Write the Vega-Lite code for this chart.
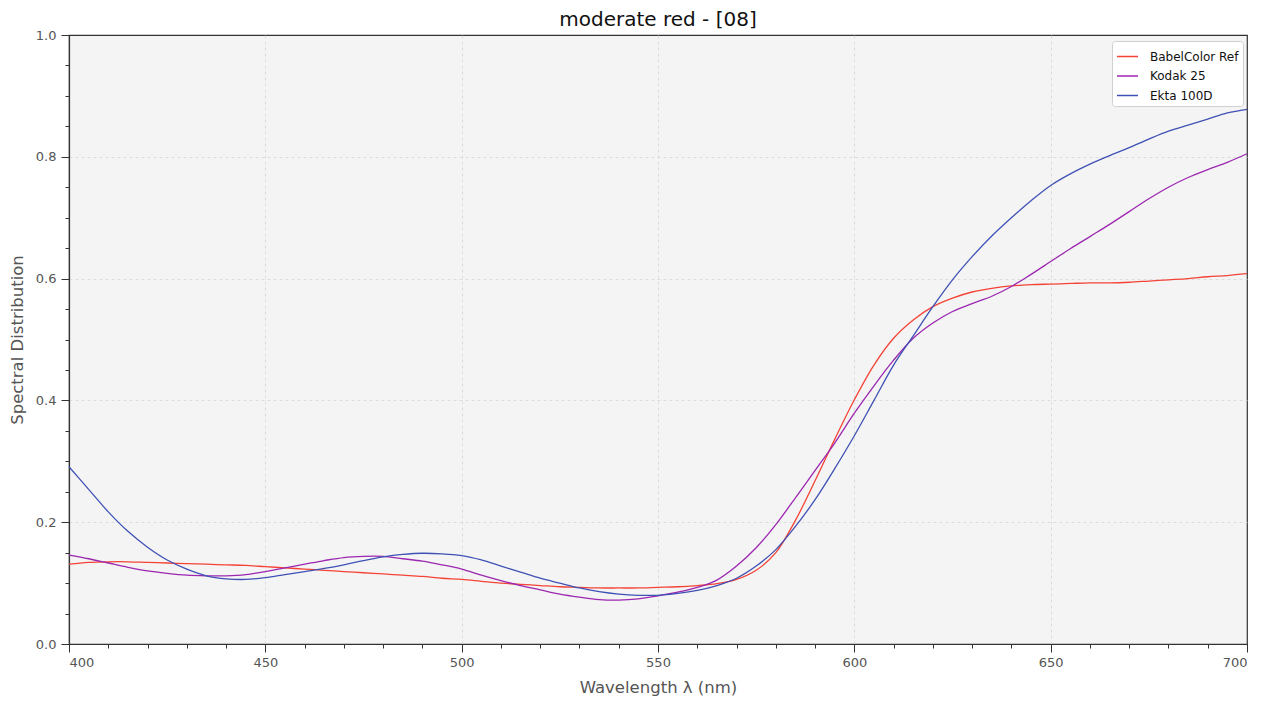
{
  "$schema": "https://vega.github.io/schema/vega-lite/v6.json",
  "width": 1178,
  "height": 609,
  "autosize": {"type": "none"},
  "padding": {"left": 69, "top": 35, "right": 22, "bottom": 65},
  "background": "#ffffff",
  "title": {"text": "moderate red - [08]", "fontSize": 20, "fontWeight": "normal", "color": "#111111", "font": "DejaVu Sans", "offset": 7, "dy": 8, "anchor": "middle"},
  "data": {"values": [
    {"w":400,"s":"BabelColor Ref","v":0.131},{"w":405,"s":"BabelColor Ref","v":0.134},{"w":410,"s":"BabelColor Ref","v":0.135},{"w":415,"s":"BabelColor Ref","v":0.135},{"w":420,"s":"BabelColor Ref","v":0.134},{"w":425,"s":"BabelColor Ref","v":0.133},{"w":430,"s":"BabelColor Ref","v":0.132},{"w":435,"s":"BabelColor Ref","v":0.131},{"w":440,"s":"BabelColor Ref","v":0.130},{"w":445,"s":"BabelColor Ref","v":0.129},{"w":450,"s":"BabelColor Ref","v":0.127},{"w":455,"s":"BabelColor Ref","v":0.125},{"w":460,"s":"BabelColor Ref","v":0.123},{"w":465,"s":"BabelColor Ref","v":0.121},{"w":470,"s":"BabelColor Ref","v":0.119},{"w":475,"s":"BabelColor Ref","v":0.117},{"w":480,"s":"BabelColor Ref","v":0.115},{"w":485,"s":"BabelColor Ref","v":0.113},{"w":490,"s":"BabelColor Ref","v":0.111},{"w":495,"s":"BabelColor Ref","v":0.108},{"w":500,"s":"BabelColor Ref","v":0.106},{"w":505,"s":"BabelColor Ref","v":0.103},{"w":510,"s":"BabelColor Ref","v":0.100},{"w":515,"s":"BabelColor Ref","v":0.098},{"w":520,"s":"BabelColor Ref","v":0.096},{"w":525,"s":"BabelColor Ref","v":0.094},{"w":530,"s":"BabelColor Ref","v":0.093},{"w":535,"s":"BabelColor Ref","v":0.092},{"w":540,"s":"BabelColor Ref","v":0.092},{"w":545,"s":"BabelColor Ref","v":0.092},{"w":550,"s":"BabelColor Ref","v":0.093},{"w":555,"s":"BabelColor Ref","v":0.094},{"w":560,"s":"BabelColor Ref","v":0.096},{"w":565,"s":"BabelColor Ref","v":0.099},{"w":570,"s":"BabelColor Ref","v":0.106},{"w":575,"s":"BabelColor Ref","v":0.121},{"w":580,"s":"BabelColor Ref","v":0.150},{"w":585,"s":"BabelColor Ref","v":0.203},{"w":590,"s":"BabelColor Ref","v":0.268},{"w":595,"s":"BabelColor Ref","v":0.336},{"w":600,"s":"BabelColor Ref","v":0.401},{"w":605,"s":"BabelColor Ref","v":0.458},{"w":610,"s":"BabelColor Ref","v":0.502},{"w":615,"s":"BabelColor Ref","v":0.532},{"w":620,"s":"BabelColor Ref","v":0.554},{"w":625,"s":"BabelColor Ref","v":0.568},{"w":630,"s":"BabelColor Ref","v":0.578},{"w":635,"s":"BabelColor Ref","v":0.584},{"w":640,"s":"BabelColor Ref","v":0.588},{"w":645,"s":"BabelColor Ref","v":0.590},{"w":650,"s":"BabelColor Ref","v":0.591},{"w":655,"s":"BabelColor Ref","v":0.592},{"w":660,"s":"BabelColor Ref","v":0.593},{"w":665,"s":"BabelColor Ref","v":0.593},{"w":670,"s":"BabelColor Ref","v":0.594},{"w":675,"s":"BabelColor Ref","v":0.596},{"w":680,"s":"BabelColor Ref","v":0.598},{"w":685,"s":"BabelColor Ref","v":0.600},{"w":690,"s":"BabelColor Ref","v":0.603},{"w":695,"s":"BabelColor Ref","v":0.605},{"w":700,"s":"BabelColor Ref","v":0.608},
    {"w":400,"s":"Kodak 25","v":0.146},{"w":405,"s":"Kodak 25","v":0.140},{"w":410,"s":"Kodak 25","v":0.133},{"w":415,"s":"Kodak 25","v":0.126},{"w":420,"s":"Kodak 25","v":0.120},{"w":425,"s":"Kodak 25","v":0.116},{"w":430,"s":"Kodak 25","v":0.113},{"w":435,"s":"Kodak 25","v":0.112},{"w":440,"s":"Kodak 25","v":0.112},{"w":445,"s":"Kodak 25","v":0.114},{"w":450,"s":"Kodak 25","v":0.119},{"w":455,"s":"Kodak 25","v":0.125},{"w":460,"s":"Kodak 25","v":0.131},{"w":465,"s":"Kodak 25","v":0.137},{"w":470,"s":"Kodak 25","v":0.142},{"w":475,"s":"Kodak 25","v":0.144},{"w":480,"s":"Kodak 25","v":0.144},{"w":485,"s":"Kodak 25","v":0.140},{"w":490,"s":"Kodak 25","v":0.136},{"w":495,"s":"Kodak 25","v":0.130},{"w":500,"s":"Kodak 25","v":0.123},{"w":505,"s":"Kodak 25","v":0.113},{"w":510,"s":"Kodak 25","v":0.104},{"w":515,"s":"Kodak 25","v":0.096},{"w":520,"s":"Kodak 25","v":0.089},{"w":525,"s":"Kodak 25","v":0.082},{"w":530,"s":"Kodak 25","v":0.077},{"w":535,"s":"Kodak 25","v":0.073},{"w":540,"s":"Kodak 25","v":0.072},{"w":545,"s":"Kodak 25","v":0.074},{"w":550,"s":"Kodak 25","v":0.079},{"w":555,"s":"Kodak 25","v":0.085},{"w":560,"s":"Kodak 25","v":0.093},{"w":565,"s":"Kodak 25","v":0.105},{"w":570,"s":"Kodak 25","v":0.128},{"w":575,"s":"Kodak 25","v":0.158},{"w":580,"s":"Kodak 25","v":0.196},{"w":585,"s":"Kodak 25","v":0.240},{"w":590,"s":"Kodak 25","v":0.285},{"w":595,"s":"Kodak 25","v":0.330},{"w":600,"s":"Kodak 25","v":0.379},{"w":605,"s":"Kodak 25","v":0.424},{"w":610,"s":"Kodak 25","v":0.466},{"w":615,"s":"Kodak 25","v":0.502},{"w":620,"s":"Kodak 25","v":0.527},{"w":625,"s":"Kodak 25","v":0.546},{"w":630,"s":"Kodak 25","v":0.559},{"w":635,"s":"Kodak 25","v":0.571},{"w":640,"s":"Kodak 25","v":0.587},{"w":645,"s":"Kodak 25","v":0.607},{"w":650,"s":"Kodak 25","v":0.628},{"w":655,"s":"Kodak 25","v":0.649},{"w":660,"s":"Kodak 25","v":0.669},{"w":665,"s":"Kodak 25","v":0.689},{"w":670,"s":"Kodak 25","v":0.710},{"w":675,"s":"Kodak 25","v":0.731},{"w":680,"s":"Kodak 25","v":0.750},{"w":685,"s":"Kodak 25","v":0.766},{"w":690,"s":"Kodak 25","v":0.779},{"w":695,"s":"Kodak 25","v":0.791},{"w":700,"s":"Kodak 25","v":0.805},
    {"w":400,"s":"Ekta 100D","v":0.291},{"w":405,"s":"Ekta 100D","v":0.254},{"w":410,"s":"Ekta 100D","v":0.217},{"w":415,"s":"Ekta 100D","v":0.185},{"w":420,"s":"Ekta 100D","v":0.159},{"w":425,"s":"Ekta 100D","v":0.138},{"w":430,"s":"Ekta 100D","v":0.123},{"w":435,"s":"Ekta 100D","v":0.112},{"w":440,"s":"Ekta 100D","v":0.107},{"w":445,"s":"Ekta 100D","v":0.106},{"w":450,"s":"Ekta 100D","v":0.109},{"w":455,"s":"Ekta 100D","v":0.114},{"w":460,"s":"Ekta 100D","v":0.119},{"w":465,"s":"Ekta 100D","v":0.124},{"w":470,"s":"Ekta 100D","v":0.130},{"w":475,"s":"Ekta 100D","v":0.137},{"w":480,"s":"Ekta 100D","v":0.143},{"w":485,"s":"Ekta 100D","v":0.147},{"w":490,"s":"Ekta 100D","v":0.149},{"w":495,"s":"Ekta 100D","v":0.148},{"w":500,"s":"Ekta 100D","v":0.145},{"w":505,"s":"Ekta 100D","v":0.138},{"w":510,"s":"Ekta 100D","v":0.128},{"w":515,"s":"Ekta 100D","v":0.118},{"w":520,"s":"Ekta 100D","v":0.108},{"w":525,"s":"Ekta 100D","v":0.100},{"w":530,"s":"Ekta 100D","v":0.092},{"w":535,"s":"Ekta 100D","v":0.086},{"w":540,"s":"Ekta 100D","v":0.082},{"w":545,"s":"Ekta 100D","v":0.080},{"w":550,"s":"Ekta 100D","v":0.080},{"w":555,"s":"Ekta 100D","v":0.083},{"w":560,"s":"Ekta 100D","v":0.088},{"w":565,"s":"Ekta 100D","v":0.096},{"w":570,"s":"Ekta 100D","v":0.108},{"w":575,"s":"Ekta 100D","v":0.128},{"w":580,"s":"Ekta 100D","v":0.155},{"w":585,"s":"Ekta 100D","v":0.193},{"w":590,"s":"Ekta 100D","v":0.237},{"w":595,"s":"Ekta 100D","v":0.288},{"w":600,"s":"Ekta 100D","v":0.342},{"w":605,"s":"Ekta 100D","v":0.400},{"w":610,"s":"Ekta 100D","v":0.458},{"w":615,"s":"Ekta 100D","v":0.506},{"w":620,"s":"Ekta 100D","v":0.554},{"w":625,"s":"Ekta 100D","v":0.598},{"w":630,"s":"Ekta 100D","v":0.636},{"w":635,"s":"Ekta 100D","v":0.670},{"w":640,"s":"Ekta 100D","v":0.700},{"w":645,"s":"Ekta 100D","v":0.728},{"w":650,"s":"Ekta 100D","v":0.753},{"w":655,"s":"Ekta 100D","v":0.772},{"w":660,"s":"Ekta 100D","v":0.788},{"w":665,"s":"Ekta 100D","v":0.802},{"w":670,"s":"Ekta 100D","v":0.815},{"w":675,"s":"Ekta 100D","v":0.829},{"w":680,"s":"Ekta 100D","v":0.842},{"w":685,"s":"Ekta 100D","v":0.852},{"w":690,"s":"Ekta 100D","v":0.862},{"w":695,"s":"Ekta 100D","v":0.872},{"w":700,"s":"Ekta 100D","v":0.878}
  ]},
  "mark": {"type": "line", "interpolate": "catmull-rom", "strokeWidth": 1.3},
  "encoding": {
    "x": {
      "field": "w", "type": "quantitative",
      "scale": {"domain": [400, 700], "nice": false, "zero": false},
      "axis": {
        "title": "Wavelength λ (nm)",
        "values": [400,410,420,430,440,450,460,470,480,490,500,510,520,530,540,550,560,570,580,590,600,610,620,630,640,650,660,670,680,690,700],
        "labelExpr": "datum.value % 50 == 0 ? datum.label : ''",
        "tickSize": {"condition": {"test": "datum.value % 50 == 0", "value": 8}, "value": 4},
        "gridOpacity": {"condition": {"test": "datum.value % 50 == 0 && datum.value > 400 && datum.value < 700", "value": 1}, "value": 0},
        "format": "d",
        "labelPadding": 4,
        "titlePadding": 10,
        "titleFontSize": 16.5
      }
    },
    "y": {
      "field": "v", "type": "quantitative",
      "scale": {"domain": [0, 1], "nice": false},
      "axis": {
        "title": "Spectral Distribution",
        "values": [0,0.05,0.1,0.15,0.2,0.25,0.3,0.35,0.4,0.45,0.5,0.55,0.6,0.65,0.7,0.75,0.8,0.85,0.9,0.95,1.0],
        "labelExpr": "round(datum.value * 20) % 4 == 0 ? datum.label : ''",
        "tickSize": {"condition": {"test": "round(datum.value * 20) % 4 == 0", "value": 8}, "value": 4},
        "gridOpacity": {"condition": {"test": "round(datum.value * 20) % 4 == 0 && datum.value > 0.01 && datum.value < 0.99", "value": 1}, "value": 0},
        "format": ".1f",
        "labelPadding": 5,
        "titlePadding": 10,
        "titleFontSize": 16.5
      }
    },
    "color": {
      "field": "s", "type": "nominal",
      "scale": {"domain": ["BabelColor Ref", "Kodak 25", "Ekta 100D"], "range": ["#F44336", "#9C27B0", "#3F51B5"]},
      "legend": {
        "title": null,
        "orient": "none",
        "legendX": 1043,
        "legendY": 6,
        "symbolType": "stroke",
        "symbolSize": 441,
        "symbolStrokeWidth": 1.5,
        "labelFontSize": 12,
        "labelColor": "#111111",
        "labelFont": "DejaVu Sans",
        "fillColor": "#ffffff",
        "strokeColor": "#d0d0d0",
        "cornerRadius": 3,
        "padding": 4,
        "rowPadding": 1.5,
        "labelOffset": 11
      }
    }
  },
  "config": {
    "font": "DejaVu Sans",
    "view": {"fill": "#f4f4f4", "stroke": "#333333", "strokeWidth": 1.2},
    "axis": {
      "domainColor": "#333333",
      "domainWidth": 1.2,
      "tickColor": "#333333",
      "tickWidth": 1,
      "labelColor": "#555555",
      "labelFontSize": 13,
      "labelFont": "DejaVu Sans",
      "titleColor": "#555555",
      "titleFontWeight": "normal",
      "titleFont": "DejaVu Sans",
      "grid": true,
      "gridColor": "#d6d6d6",
      "gridDash": [3, 3],
      "gridWidth": 0.8
    }
  }
}
